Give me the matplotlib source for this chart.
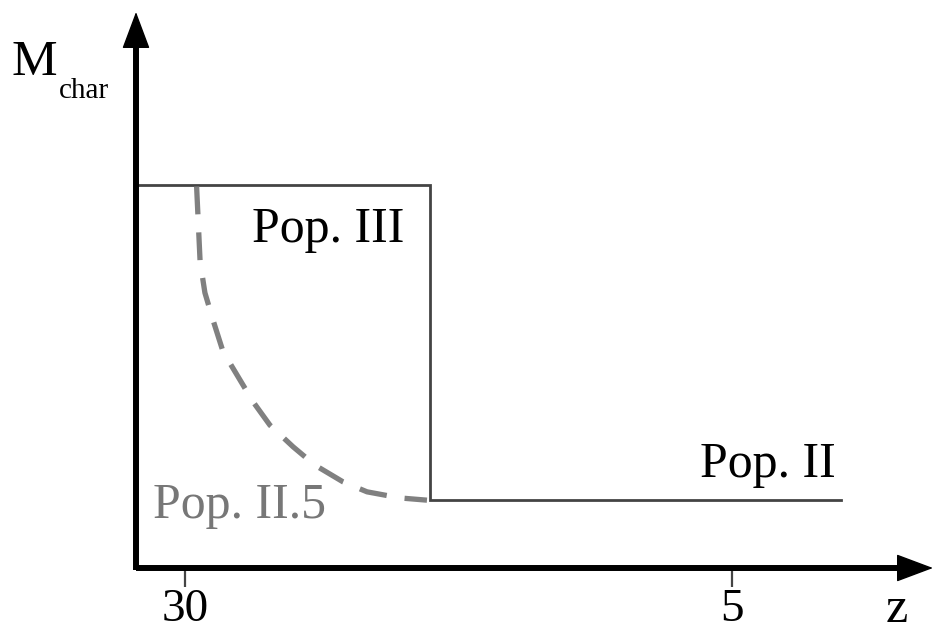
import matplotlib
matplotlib.use("Agg")
import matplotlib.pyplot as plt
from matplotlib.lines import Line2D

# ---- data (schematic) ----
z_step = [32.24, 18.8, 18.8, 0.0]            # redshift of solid step line
m_step = [0.689, 0.689, 0.122, 0.122]         # characteristic mass (arbitrary units)

z_dash = [29.47, 29.31, 29.09, 28.72, 28.26, 27.62, 26.89, 26.12, 25.06,
          24.06, 22.78, 21.68, 20.17, 18.94]
m_dash = [0.686, 0.551, 0.495, 0.446, 0.389, 0.347, 0.299, 0.257, 0.218,
          0.185, 0.155, 0.137, 0.126, 0.122]

xtick_vals = [30, 5]
xtick_labels = ["30", "5"]

plt.rcParams['lines.scale_dashes'] = False
serif = ['Liberation Serif', 'DejaVu Serif']

fig = plt.figure(figsize=(9.34, 6.37), dpi=100)
W, H = 934, 637
left, right, bottom, top = 136, 933, 568, 12
ax = fig.add_axes([left / W, (H - bottom) / H, (right - left) / W, (bottom - top) / H])
ax.set_xlim(32.24, -4.19)
ax.set_ylim(0, 1)
for s in ax.spines.values():
    s.set_visible(False)
ax.set_yticks([])
ax.set_xticks(xtick_vals)
ax.set_xticklabels(xtick_labels, fontsize=34, family=serif)
ax.tick_params(axis='x', length=14, width=1.6, color='#444444', pad=0.5, direction='out')

# axes arrows
ax.add_line(Line2D([0, 0.958], [0, 0], transform=ax.transAxes, color='black', lw=4.3,
                   clip_on=False, solid_capstyle='butt', zorder=5))
ax.add_line(Line2D([0, 0], [-0.003, 0.935], transform=ax.transAxes, color='black', lw=4.3,
                   clip_on=False, solid_capstyle='butt', zorder=5))
hp = dict(arrowstyle='-|>,head_length=2.4,head_width=0.9', mutation_scale=10,
          lw=1, color='black', shrinkA=0, shrinkB=0)
ax.annotate('', xy=(1, 0), xytext=(0.9, 0), xycoords='axes fraction', arrowprops=hp,
            annotation_clip=False, zorder=6)
ax.annotate('', xy=(0, 1), xytext=(0, 0.9), xycoords='axes fraction', arrowprops=hp,
            annotation_clip=False, zorder=6)

# curves
ax.plot(z_step, m_step, color='#444444', lw=2.0, solid_joinstyle='miter', clip_on=False)
ax.plot(z_dash, m_dash, color='#808080', lw=3.8, dashes=(20, 13), clip_on=False)

# labels
ax.text(26.94, 0.587, 'Pop. III', fontsize=36, family=serif, color='black',
        ha='left', va='baseline')
ax.text(6.46, 0.163, 'Pop. II', fontsize=36, family=serif, color='black',
        ha='left', va='baseline')
ax.text(31.46, 0.09, 'Pop. II.5', fontsize=36, family=serif, color='#777777',
        ha='left', va='baseline')
ax.text(-2.54, -0.098, 'z', fontsize=36, family=serif, color='black',
        ha='center', va='baseline', clip_on=False)
ax.text(37.91, 0.8867, 'M', fontsize=37, family=serif, color='black',
        ha='left', va='baseline', clip_on=False)
ax.text(35.76, 0.8453, 'char', fontsize=21, family=serif, color='black',
        ha='left', va='baseline', clip_on=False)

fig.savefig('out.png', dpi=100)
